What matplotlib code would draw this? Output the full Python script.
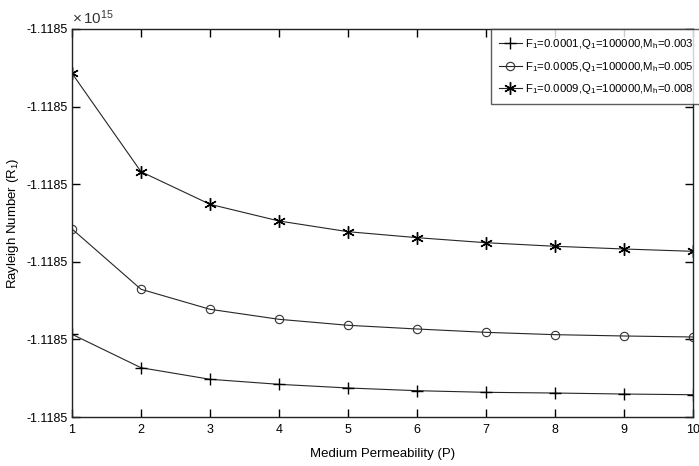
import matplotlib
matplotlib.use('Agg')
from matplotlib import pyplot as plt
from matplotlib import font_manager

# font: MATLAB-ish Helvetica look (narrow if available)
names = {f.name for f in font_manager.fontManager.ttflist}
fam = 'Liberation Sans Narrow' if 'Liberation Sans Narrow' in names else 'Liberation Sans'
plt.rcParams['font.family'] = [fam, 'DejaVu Sans']
plt.rcParams['mathtext.default'] = 'regular'

P = [1, 2, 3, 4, 5, 6, 7, 8, 9, 10]

# values, relative units (one unit = one y tick step)
ra_f1 = [1.066, 0.635, 0.486, 0.421, 0.374, 0.339, 0.318, 0.309, 0.296, 0.287]
ra_f5 = [2.423, 1.646, 1.388, 1.259, 1.182, 1.134, 1.091, 1.061, 1.044, 1.031]
ra_f9 = [4.429, 3.161, 2.741, 2.526, 2.388, 2.311, 2.246, 2.200, 2.165, 2.135]

labels = [r'F$_1$=0.0001,Q$_1$=100000,M$_h$=0.003',
          r'F$_1$=0.0005,Q$_1$=100000,M$_h$=0.005',
          r'F$_1$=0.0009,Q$_1$=100000,M$_h$=0.008']
ytick_pos = [0, 1, 2, 3, 4, 5]
ytick_lab = ['-1.1185'] * 6

fig = plt.figure(figsize=(6.99, 4.66), dpi=100)
ax = fig.add_axes([72/699, 49/466, 621/699, 388/466])

lw = 0.8
ax.plot(P, ra_f1, '-', color='#262626', lw=lw, marker='+', ms=9, mec='black', mew=1.0, label=labels[0])
ax.plot(P, ra_f5, '-', color='#262626', lw=lw, marker='o', ms=6, mfc='none', mec='#333333', mew=0.8, label=labels[1])
ax.plot(P, ra_f9, '-', color='#262626', lw=lw, marker=(6, 2, 0), ms=9, mec='black', mew=1.0, label=labels[2])

ax.set_xlim(1, 10)
ax.set_ylim(0, 5)
ax.set_xticks(P)
ax.set_yticks(ytick_pos)
ax.set_yticklabels(ytick_lab)
ax.tick_params(direction='in', length=6, width=1, top=True, right=True, labelsize=9, pad=3)
ax.tick_params(axis='x', pad=5)
for s in ax.spines.values():
    s.set_linewidth(1.0)
    s.set_color('#222222')

ax.set_xlabel('Medium Permeability (P)', fontsize=9.5)
ax.xaxis.set_label_coords(0.5, -0.08)
ax.set_ylabel('Rayleigh Number (R$_1$)', fontsize=9.5)
ax.yaxis.set_label_coords(-0.082, 0.5)
ax.text(0.0, 1.004, r'$\times\,10^{15}$', transform=ax.transAxes, fontsize=11, va='bottom', ha='left',
        color='#333333')

leg = ax.legend(loc='upper left', bbox_to_anchor=(491/699, 437/466), bbox_transform=fig.transFigure,
                fontsize=8.2, frameon=True, fancybox=False, borderaxespad=0, handlelength=2.0,
                handletextpad=0.3, borderpad=0.7, labelspacing=0.75)
leg.get_frame().set_edgecolor('#333333')
leg.get_frame().set_linewidth(1.0)

fig.savefig('out.png', dpi=100)
